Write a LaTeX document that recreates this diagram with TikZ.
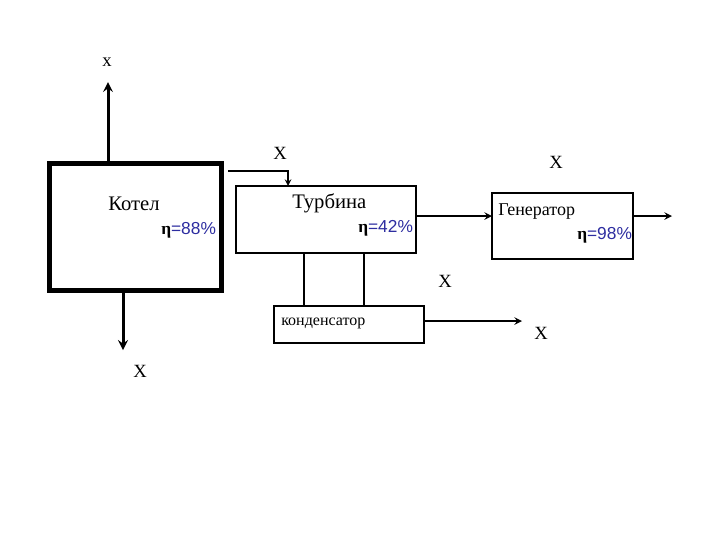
\documentclass[tikz,border=0pt]{standalone}
\usepackage{fontspec}
\setmainfont{Liberation Serif}
\newfontfamily\efffont{Liberation Sans}
\definecolor{effblue}{RGB}{45,45,160}
\newcommand{\eff}[1]{{\bfseries η}{\efffont\color{effblue}=#1\%}}

\tikzset{
  unit/.style={draw, line width=1.5pt, inner sep=0pt, outer sep=0pt},
  lbl/.style={font=\fontsize{14}{14}\selectfont, inner sep=0pt, anchor=base},
  unitname/.style={font=\fontsize{15.5}{15.5}\selectfont, inner sep=0pt, anchor=base west},
  effl/.style={font=\fontsize{13}{13}\selectfont, inner sep=0pt, anchor=base west},
}

\begin{document}
\begin{tikzpicture}[>={stealth[scale=1.3]}, x=0.75pt, y=-0.75pt]
        \useasboundingbox (0,0) rectangle (720,540);

        % units
        \node[unit, line width=3.75pt, minimum width=129pt, minimum height=95.25pt] (boiler) at (135,226.5) {};
        \node[unit, minimum width=135pt, minimum height=50.25pt] (turbine) at (326,219.5) {};
        \node[unit, minimum width=112.5pt, minimum height=27.75pt] (condenser) at (349,324.5) {};
        \node[unit, minimum width=105.75pt, minimum height=49.5pt] (generator) at (562.5,226) {};

        % names and efficiencies
        \node[unitname] (boilername) at (108,210) {Котел};
        \node[effl] (boilereff) at (161,234) {\eff{88}};
        \node[unitname] (turbinename) at (292,208) {Турбина};
        \node[effl] (turbineeff) at (358,232) {\eff{42}};
        \node[unitname, font=\fontsize{13.5}{13.5}\selectfont] (generatorname) at (498,215) {Генератор};
        \node[effl] (generatoreff) at (577,239) {\eff{98}};
        \node[unitname, font=\fontsize{12}{12}\selectfont] (condensername) at (281,325) {конденсатор};

        % free ends
        \coordinate (fluegas) at (108,82);
        \coordinate (ash) at (123,350);
        \coordinate (feed) at (228,171);
        \coordinate (feedtip) at (288,186);
        \coordinate (power) at (672,216);
        \coordinate (water) at (522,321);

        % flows
        \draw[->, line width=2.25pt] (boiler.north -| fluegas) -- (fluegas);
        \draw[->, line width=2.25pt] (boiler.south -| ash) -- (ash);
        \draw[->, line width=1.2pt] (feed) -| (feedtip |- turbine.north);
        \draw[->, line width=1.5pt] (turbine.east |- 416,216) -- (generator.west |- 416,216);
        \draw[->, line width=1.5pt] (generator.east |- power) -- (power);
        \draw[line width=1.5pt] (turbine.south -| 304,0) -- (condenser.north -| 304,0);
        \draw[line width=1.5pt] (turbine.south -| 364,0) -- (condenser.north -| 364,0);
        \draw[->, line width=1.5pt] (condenser.east |- water) -- (water);

        % labels
        \node[lbl] (fluegasx) at (107,66) {x};
        \node[lbl] (feedx) at (280,159) {X};
        \node[lbl] (powerx) at (556,168) {X};
        \node[lbl] (steamx) at (445,287) {X};
        \node[lbl] (waterx) at (541,339) {X};
        \node[lbl] (ashx) at (140,377) {X};

\end{tikzpicture}
\end{document}
